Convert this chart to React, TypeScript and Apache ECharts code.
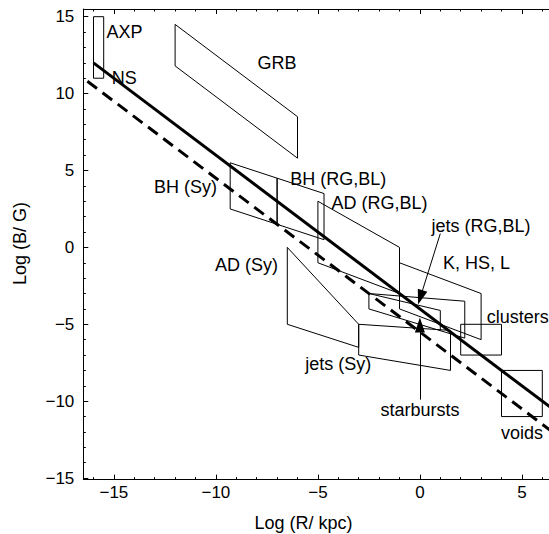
import React, { useEffect, useRef } from "react";
import * as echarts from "echarts";

// Axis ranges and ticks
const X_MIN = -16.5;
const X_MAX = 7;
const Y_MIN = -15.1;
const Y_MAX = 15.5;
const xMajorTicks = [-15, -10, -5, 0, 5];
const xMinorTicks = [-16, -15, -14, -13, -12, -11, -10, -9, -8, -7, -6, -5, -4, -3, -2, -1, 0, 1, 2, 3, 4, 5, 6];
const yMajorTicks = [-15, -10, -5, 0, 5, 10, 15];
const yMinorTicks = [-15, -14, -13, -12, -11, -10, -9, -8, -7, -6, -5, -4, -3, -2, -1, 0, 1, 2, 3, 4, 5, 6, 7, 8, 9, 10, 11, 12, 13, 14, 15];

// Regions (polygon vertices, [log R, log B])
const axpBox = [[-16, 11], [-16, 15], [-15.5, 15], [-15.5, 11]];
const grbBox = [[-12, 14.5], [-6, 8.5], [-6, 5.8], [-12, 11.8]];
const bhSyBox = [[-9.3, 5.5], [-7, 4.5], [-7, 1.5], [-9.3, 2.5]];
const bhRgBox = [[-7, 4.5], [-4.7, 3.5], [-4.7, 0.5], [-7, 1.5]];
const adRgBox = [[-5, 3], [-1, 0], [-1, -3], [-5, -1]];
const adSyBox = [[-6.5, 0], [-3, -5], [-3, -6.5], [-6.5, -5]];
const khslBox = [[-1, -1], [3, -3], [3, -6], [-1, -4]];
const jetsRgBox = [[-2.5, -3], [2.2, -3.5], [2.2, -5.9], [-2.5, -4]];
const innerEdge = [[-2.5, -3], [1, -4.1], [1, -5.4]];
const jetsSyBox = [[-3, -5], [1.5, -5.4], [1.5, -8], [-3, -7]];
const clustersBox = [[2, -5], [4, -5], [4, -7], [2, -7]];
const voidsBox = [[4, -8], [6, -8], [6, -11], [4, -11]];

// Limit lines
const solidLine = [[-16, 12], [7, -11]];
const dashedLine = [[-16.3, 10.8], [7, -12.5]];

// Text labels
const labelNames = ["AXP", "NS", "GRB", "BH (Sy)", "BH (RG,BL)", "AD (RG,BL)", "jets (RG,BL)", "K, HS, L", "clusters", "jets (Sy)", "starbursts", "voids", "AD (Sy)"];
const labelX = [-14.48, -14.49, -7.0, -11.49, -4.0, -1.98, 3.0, 2.77, 4.8, -4.0, 0, 5.0, -8.5];
const labelY = [14.0, 11.0, 12.0, 3.92, 4.43, 2.91, 1.4, -1.04, -4.53, -7.59, -10.58, -12.04, -1.17];

// Arrows [from, to]
const jetsArrow = [[1.0, 0.9], [0.02, -3.25]];
const starArrow = [[0, -9.9], [0, -5.05]];

const FONT = '"Liberation Sans", Arial, Helvetica, sans-serif';

const fmt = (v: number) => (v < 0 ? "\u2212" + Math.abs(v) : String(v));

function closed(p: number[][]) {
  return p.concat([p[0]]);
}

export default function App() {
  const ref = useRef<HTMLDivElement>(null);
  useEffect(() => {
    if (!ref.current) return;
    const chart = echarts.init(ref.current, undefined, { renderer: "svg" });
    const black = "#000";
    const baseX = { type: "value", min: X_MIN, max: X_MAX, splitLine: { show: false } };
    const baseY = { type: "value", min: Y_MIN, max: Y_MAX, splitLine: { show: false } };
    const polys = [axpBox, grbBox, bhSyBox, bhRgBox, adRgBox, adSyBox, khslBox, jetsRgBox, jetsSyBox, clustersBox, voidsBox];
    const boxSeries = polys.map((p) => ({
      type: "line",
      data: closed(p),
      symbol: "none",
      silent: true,
      lineStyle: { color: black, width: 1 },
      z: 2,
    }));
    const mk = (base: any, position: string, major: boolean, labelled: boolean, ticks: number[]) => ({
      ...base,
      position,
      axisLine: { show: major, onZero: false, lineStyle: { color: black, width: 1 } },
      axisTick: { show: true, inside: true, length: major ? 5 : 2.5, customValues: ticks, lineStyle: { color: black } },
      axisLabel: labelled
        ? { show: true, customValues: ticks, formatter: fmt, color: black, fontSize: 17, fontFamily: FONT, margin: position === "left" ? 9 : 4 }
        : { show: false },
    });
    const option: any = {
      animation: false,
      backgroundColor: "#fff",
      grid: {
        left: 83.3,
        top: 9,
        width: (X_MAX - X_MIN) * 20.4,
        height: (Y_MAX - Y_MIN) * 15.38,
        containLabel: false,
        outerBoundsMode: "none",
      },
      xAxis: [
        mk(baseX, "bottom", true, true, xMajorTicks),
        mk(baseX, "bottom", false, false, xMinorTicks),
        mk(baseX, "top", true, false, xMajorTicks),
        mk(baseX, "top", false, false, xMinorTicks),
      ],
      yAxis: [
        mk(baseY, "left", true, true, yMajorTicks),
        mk(baseY, "left", false, false, yMinorTicks),
        mk(baseY, "right", true, false, yMajorTicks),
      ],
      graphic: [
        {
          type: "text",
          x: 303.5,
          y: 523,
          style: { text: "Log (R/ kpc)", fill: black, font: `18px ${FONT}`, textAlign: "center", textVerticalAlign: "middle" },
        },
        {
          type: "text",
          x: 20,
          y: 243.5,
          rotation: Math.PI / 2,
          style: { text: "Log (B/ G)", fill: black, font: `18px ${FONT}`, textAlign: "center", textVerticalAlign: "middle" },
        },
      ],
      series: [
        ...boxSeries,
        {
          type: "line",
          data: innerEdge,
          symbol: "none",
          silent: true,
          lineStyle: { color: black, width: 1 },
          z: 2,
        },
        {
          type: "line",
          data: solidLine,
          symbol: "none",
          silent: true,
          lineStyle: { color: black, width: 3 },
          z: 3,
        },
        {
          type: "line",
          data: dashedLine,
          symbol: "none",
          silent: true,
          lineStyle: { color: black, width: 3, type: [12, 7] },
          z: 3,
        },
        {
          type: "line",
          data: [],
          symbol: "none",
          markLine: {
            silent: true,
            symbol: ["none", "triangle"],
            symbolSize: [10, 15],
            label: { show: false },
            lineStyle: { color: black, width: 1, type: "solid", opacity: 1 },
            itemStyle: { color: black, opacity: 1 },
            data: [
              [{ coord: jetsArrow[0] }, { coord: jetsArrow[1] }],
              [{ coord: starArrow[0] }, { coord: starArrow[1] }],
            ],
          },
          z: 4,
        },
        {
          type: "scatter",
          symbolSize: 0,
          silent: true,
          itemStyle: { opacity: 1, color: black },
          data: labelNames.map((n, i) => ({ name: n, value: [labelX[i], labelY[i]] })),
          label: {
            show: true,
            position: "inside",
            formatter: "{b}",
            color: black,
            opacity: 1,
            fontSize: 18,
            fontFamily: FONT,
          },
          z: 5,
        },
      ],
    };
    chart.setOption(option);
    return () => chart.dispose();
  }, []);
  return (
    <div
      ref={ref}
      style={{ position: "absolute", left: 0, top: 0, width: 549, height: 534, overflow: "hidden", background: "#fff" }}
    />
  );
}
